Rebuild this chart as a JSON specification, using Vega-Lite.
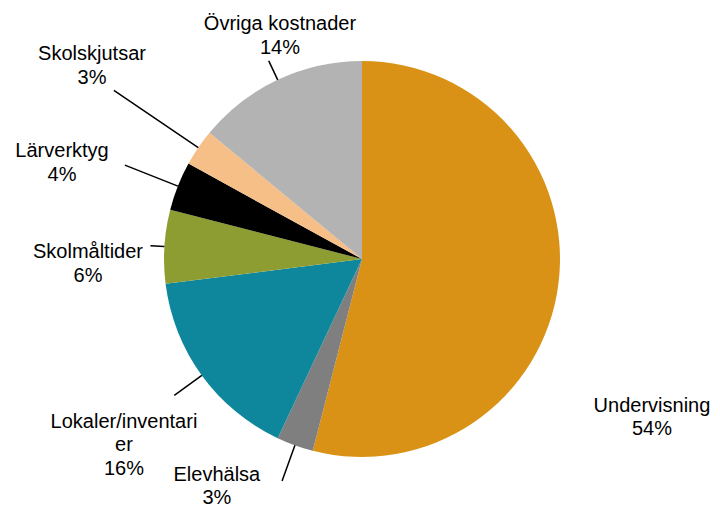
{
  "$schema": "https://vega.github.io/schema/vega-lite/v6.json",
  "autosize": {"type": "none"},
  "width": 716,
  "height": 494,
  "padding": {"left": 4, "top": 12, "right": 0, "bottom": 0},
  "background": "white",
  "config": {
    "view": {"stroke": null},
    "text": {"lineBreak": "\n", "font": "Liberation Sans", "fontSize": 20, "lineHeight": 23.5, "color": "#000000"}
  },
  "data": {
    "values": [
      {"kategori": "Undervisning", "andel": 54, "ordning": 1, "etikett": "Undervisning\n54%"},
      {"kategori": "Elevhälsa", "andel": 3, "ordning": 2, "etikett": "Elevhälsa\n3%"},
      {"kategori": "Lokaler/inventarier", "andel": 16, "ordning": 3, "etikett": "Lokaler/inventari\ner\n16%"},
      {"kategori": "Skolmåltider", "andel": 6, "ordning": 4, "etikett": "Skolmåltider\n6%"},
      {"kategori": "Lärverktyg", "andel": 4, "ordning": 5, "etikett": "Lärverktyg\n4%"},
      {"kategori": "Skolskjutsar", "andel": 3, "ordning": 6, "etikett": "Skolskjutsar\n3%"},
      {"kategori": "Övriga kostnader", "andel": 14, "ordning": 7, "etikett": "Övriga kostnader\n14%"}
    ]
  },
  "encoding": {
    "theta": {"field": "andel", "type": "quantitative", "stack": true},
    "order": {"field": "ordning", "type": "quantitative"},
    "detail": {"field": "kategori", "type": "nominal"}
  },
  "layer": [
    {
      "mark": {"type": "arc", "outerRadius": 198},
      "encoding": {
        "color": {
          "field": "kategori", "type": "nominal", "legend": null,
          "scale": {
            "domain": ["Undervisning", "Elevhälsa", "Lokaler/inventarier", "Skolmåltider", "Lärverktyg", "Skolskjutsar", "Övriga kostnader"],
            "range": ["#D99215", "#7F7F7F", "#0E879D", "#8E9D32", "#000000", "#F6BF88", "#B3B3B3"]
          }
        }
      }
    },
    {
      "mark": {"type": "arc", "innerRadius": 198, "outerRadius": 219, "padAngle": 3, "fillOpacity": 0, "stroke": "#000000", "strokeWidth": 1.5},
      "encoding": {"strokeOpacity": {"condition": {"test": "datum.kategori === 'Övriga kostnader'", "value": 1}, "value": 0}}
    },
    {
      "mark": {"type": "arc", "innerRadius": 198, "outerRadius": 300, "padAngle": 3, "fillOpacity": 0, "stroke": "#000000", "strokeWidth": 1.5},
      "encoding": {"strokeOpacity": {"condition": {"test": "datum.kategori === 'Skolskjutsar'", "value": 1}, "value": 0}}
    },
    {
      "mark": {"type": "arc", "innerRadius": 198, "outerRadius": 255, "padAngle": 3, "fillOpacity": 0, "stroke": "#000000", "strokeWidth": 1.5},
      "encoding": {"strokeOpacity": {"condition": {"test": "datum.kategori === 'Lärverktyg'", "value": 1}, "value": 0}}
    },
    {
      "mark": {"type": "arc", "innerRadius": 198, "outerRadius": 212, "padAngle": 3, "fillOpacity": 0, "stroke": "#000000", "strokeWidth": 1.5},
      "encoding": {"strokeOpacity": {"condition": {"test": "datum.kategori === 'Skolmåltider'", "value": 1}, "value": 0}}
    },
    {
      "mark": {"type": "arc", "innerRadius": 198, "outerRadius": 232, "padAngle": 3, "fillOpacity": 0, "stroke": "#000000", "strokeWidth": 1.5},
      "encoding": {"strokeOpacity": {"condition": {"test": "datum.kategori === 'Lokaler/inventarier'", "value": 1}, "value": 0}}
    },
    {
      "mark": {"type": "arc", "innerRadius": 198, "outerRadius": 236, "padAngle": 3, "fillOpacity": 0, "stroke": "#000000", "strokeWidth": 1.5},
      "encoding": {"strokeOpacity": {"condition": {"test": "datum.kategori === 'Elevhälsa'", "value": 1}, "value": 0}}
    },
    {
      "mark": {"type": "text", "radius": 248.9, "thetaOffset": 0.104, "align": "center", "baseline": "middle"},
      "encoding": {"text": {"condition": {"test": "datum.kategori === 'Övriga kostnader'", "field": "etikett", "type": "nominal"}, "value": ""}}
    },
    {
      "mark": {"type": "text", "radius": 339, "thetaOffset": 0.0525, "align": "center", "baseline": "middle"},
      "encoding": {"text": {"condition": {"test": "datum.kategori === 'Skolskjutsar'", "field": "etikett", "type": "nominal"}, "value": ""}}
    },
    {
      "mark": {"type": "text", "radius": 318.8, "thetaOffset": -0.0314, "align": "center", "baseline": "middle"},
      "encoding": {"text": {"condition": {"test": "datum.kategori === 'Lärverktyg'", "field": "etikett", "type": "nominal"}, "value": ""}}
    },
    {
      "mark": {"type": "text", "radius": 274.1, "thetaOffset": -0.0373, "align": "center", "baseline": "middle"},
      "encoding": {"text": {"condition": {"test": "datum.kategori === 'Skolmåltider'", "field": "etikett", "type": "nominal"}, "value": ""}}
    },
    {
      "mark": {"type": "text", "radius": 288.5, "thetaOffset": 0.0279, "align": "center", "baseline": "middle"},
      "encoding": {"text": {"condition": {"test": "datum.kategori === 'Lokaler/inventarier'", "field": "etikett", "type": "nominal"}, "value": ""}}
    },
    {
      "mark": {"type": "text", "radius": 260, "thetaOffset": 0.2466, "align": "center", "baseline": "middle"},
      "encoding": {"text": {"condition": {"test": "datum.kategori === 'Elevhälsa'", "field": "etikett", "type": "nominal"}, "value": ""}}
    },
    {
      "mark": {"type": "text", "radius": 325.1, "thetaOffset": 0.3435, "align": "center", "baseline": "middle"},
      "encoding": {"text": {"condition": {"test": "datum.kategori === 'Undervisning'", "field": "etikett", "type": "nominal"}, "value": ""}}
    }
  ]
}
